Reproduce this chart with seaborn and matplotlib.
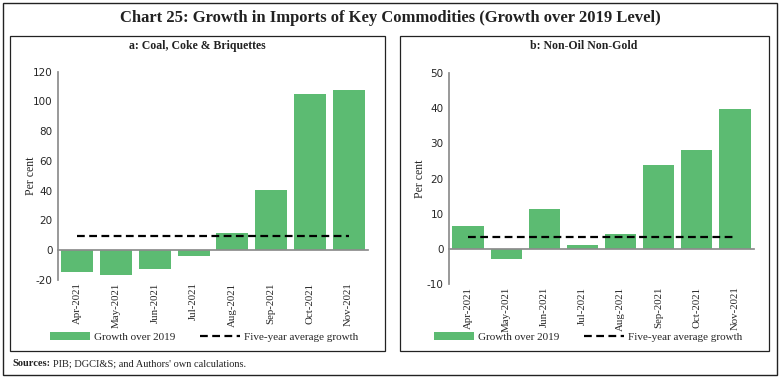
import numpy as np
import matplotlib
matplotlib.use('Agg')
import matplotlib.pyplot as plt
import seaborn as sns
from matplotlib.patches import Rectangle, Patch
from matplotlib.lines import Line2D

sns.set_theme(style='white')
plt.rcParams['font.family'] = ['Liberation Serif', 'DejaVu Serif']

# Data
months = ['Apr-2021', 'May-2021', 'Jun-2021', 'Jul-2021',
          'Aug-2021', 'Sep-2021', 'Oct-2021', 'Nov-2021']
coal_growth = [-14.6, -16.8, -12.5, -4.0, 11.2, 40.7, 105.0, 107.6]
coal_avg = [9.6] * 8
nonoil_growth = [6.6, -3.0, 11.3, 1.1, 4.2, 23.8, 28.1, 39.7]
nonoil_avg = [3.4] * 8

coal_ticks = [-20, 0, 20, 40, 60, 80, 100, 120]
nonoil_ticks = [-10, 0, 10, 20, 30, 40, 50]

bar_color = '#5CBB72'
axis_color = '#8c8c8c'

fig = plt.figure(figsize=(7.8, 3.79), dpi=100)
W, H = 780, 379


def px_rect(x0, y0, x1, y1, lw=1.0):
    # rectangle given in pixel coords (top-left origin)
    fig.patches.append(Rectangle((x0 / W, 1 - y1 / H), (x1 - x0) / W, (y1 - y0) / H,
                                 transform=fig.transFigure, fill=False,
                                 edgecolor='#222222', linewidth=lw))


px_rect(3, 3, 777, 375, 1.0)
px_rect(10, 36, 385, 351, 0.9)
px_rect(400, 36, 769, 351, 0.9)

fig.text(0.5, 1 - 18 / H, 'Chart 25: Growth in Imports of Key Commodities (Growth over 2019 Level)',
         ha='center', va='center', fontsize=12, fontweight='bold', color='#222222')


def panel(rect, title, title_x, growth, avg, yticks, legend_x, ylab_x):
    ax = fig.add_axes(rect)
    sns.barplot(x=months, y=growth, color=bar_color, width=0.82, ax=ax,
                saturation=1, edgecolor='none')
    sns.lineplot(x=np.arange(len(months)), y=avg, color='black', linestyle=(0, (3.5, 2)),
                 linewidth=1.6, ax=ax)
    ax.set_xlim(-0.5, len(months) - 0.5)
    ax.set_ylim(yticks[0], yticks[-1])
    ax.set_yticks(yticks)
    ax.set_yticklabels([str(t) for t in yticks], family='DejaVu Sans', fontsize=7.5)
    ax.tick_params(axis='y', length=3, color=axis_color, width=0.8, pad=1)

    # x axis line at zero with ticks at category boundaries
    ax.spines['bottom'].set_position(('data', 0))
    ax.spines['bottom'].set_color(axis_color)
    ax.spines['left'].set_color(axis_color)
    for s in ['top', 'right']:
        ax.spines[s].set_visible(False)
    ax.set_xticks(np.arange(-0.5, len(months), 1))
    ax.set_xticklabels([])
    ax.tick_params(axis='x', length=3, color=axis_color, width=0.8, direction='out')
    ax.set_ylabel('Per cent', fontsize=8.5)
    ax.yaxis.set_label_coords(ylab_x, 0.5)
    ax.set_xlabel('')

    sec = ax.secondary_xaxis('bottom')
    sec.set_xticks(np.arange(len(months)))
    sec.set_xticklabels(months, rotation=90, fontsize=7.8)
    sec.tick_params(length=0, pad=2)
    sec.spines['bottom'].set_visible(False)

    fig.text(title_x / W, 1 - 46 / H, title, ha='center', va='center',
             fontsize=8.5, fontweight='bold', color='#222222')

    handles = [Patch(facecolor=bar_color, edgecolor='none'),
               Line2D([0], [0], color='black', linestyle=(0, (3.5, 2)), linewidth=1.6)]
    fig.legend(handles, ['Growth over 2019', 'Five-year average growth'],
               loc='center', bbox_to_anchor=(legend_x / W, 1 - 337 / H), ncol=2,
               frameon=False, fontsize=8, handlelength=3.6, handleheight=0.8,
               columnspacing=2.2, handletextpad=0.4)
    return ax


panel([58 / W, 1 - 279.7 / H, 310 / W, 208 / H], 'a: Coal, Coke & Briquettes', 197,
      coal_growth, coal_avg, coal_ticks, 204, -0.068)
panel([449 / W, 1 - 283.8 / H, 305 / W, 210.5 / H], 'b: Non-Oil Non-Gold', 584,
      nonoil_growth, nonoil_avg, nonoil_ticks, 588, -0.075)

fig.text(12 / W, 1 - 364 / H, 'Sources:', ha='left', va='center', fontsize=7.5,
         fontweight='bold', color='#222222')
fig.text(53 / W, 1 - 364 / H, "PIB; DGCI&S; and Authors' own calculations.", ha='left',
         va='center', fontsize=7.5, color='#222222')

fig.savefig('out.png', dpi=100)
